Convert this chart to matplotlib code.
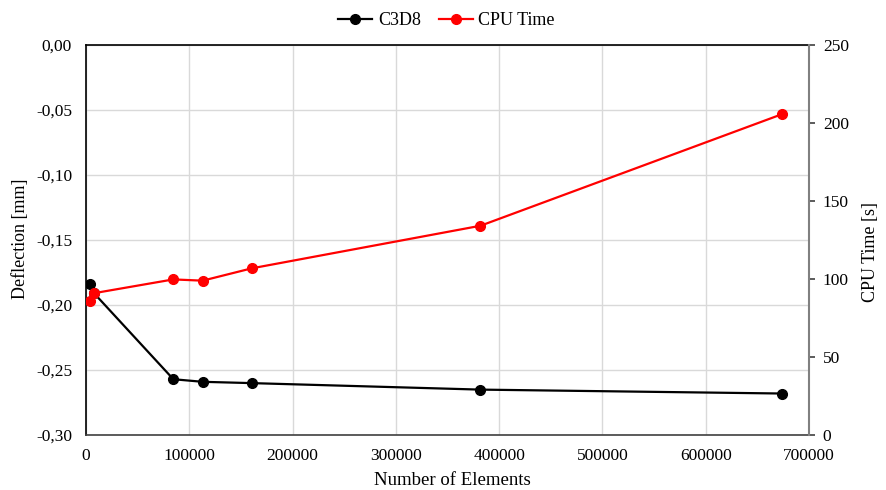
import numpy as np
import matplotlib.pyplot as plt
from matplotlib.ticker import FuncFormatter

plt.rcParams['font.family'] = ['Liberation Serif', 'DejaVu Serif']

elements = [3500, 8000, 84600, 113000, 160500, 382000, 673500]
deflection = [-0.184, -0.191, -0.257, -0.259, -0.260, -0.265, -0.268]
cpu_time = [86.0, 91.0, 99.8, 99.0, 106.9, 134.2, 205.6]

fig = plt.figure(figsize=(8.86, 4.9), dpi=100)
ax = fig.add_axes([0.097, 0.112, 0.816, 0.796])
ax2 = ax.twinx()

l1, = ax.plot(elements, deflection, color='black', marker='o', markersize=7, lw=1.6, label='C3D8', zorder=3)
l2, = ax2.plot(elements, cpu_time, color='#ff0000', marker='o', markersize=7, lw=1.6, label='CPU Time', zorder=3)

ax.set_xlim(0, 700000)
ax.set_ylim(-0.30, 0.0)
ax.set_yticks(np.arange(-0.30, 0.001, 0.05))
ax.yaxis.set_major_formatter(FuncFormatter(lambda v, p: f'{v:.2f}'.replace('.', ',').replace('-0,00', '0,00')))
ax2.set_ylim(0, 250)
ax2.set_yticks(np.arange(0, 251, 50))

ax.grid(True, color='#d9d9d9', lw=1)
ax.set_axisbelow(True)
ax.spines['right'].set_visible(False)
ax.spines['top'].set_color('black')
ax.spines['top'].set_linewidth(1.2)
ax2.spines['top'].set_visible(False)
ax2.spines['left'].set_visible(False)
ax2.spines['bottom'].set_visible(False)
ax2.spines['right'].set_color('#808080')
ax2.spines['right'].set_linewidth(1.5)
ax.spines['left'].set_linewidth(1.2)
ax.spines['bottom'].set_linewidth(1.2)
ax.spines['bottom'].set_color('#404040')

ax.tick_params(axis='y', length=0, labelsize=12.5, pad=10)
ax.tick_params(axis='x', length=0, labelsize=12.5, pad=9)
ax2.tick_params(axis='y', length=4, width=1.2, direction='out', labelsize=12.5, color='#404040', pad=6)

ax.set_xlabel('Number of Elements', fontsize=13.5)
ax.set_ylabel('Deflection [mm]', fontsize=13)
ax2.set_ylabel('CPU Time [s]', fontsize=13)
ax.xaxis.set_label_coords(0.507, -0.095)
ax.yaxis.set_label_coords(-0.079, 0.503)
ax2.yaxis.set_label_coords(1.074, 0.469)

fig.legend(handles=[l1, l2], loc='upper center', bbox_to_anchor=(0.504, 1.008), ncol=2,
           frameon=False, fontsize=13, handlelength=1.9, handletextpad=0.3, columnspacing=1.0)

fig.savefig('out.png', dpi=100)
